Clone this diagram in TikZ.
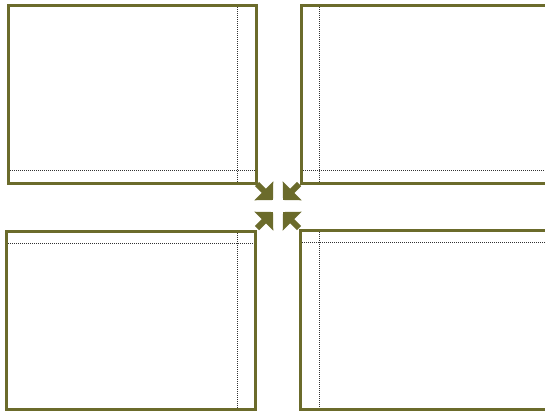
\documentclass[tikz,border=0pt]{standalone}
\usetikzlibrary{arrows.meta}
\definecolor{olive}{RGB}{107,107,43}
\definecolor{dotgray}{RGB}{50,50,50}
\tikzset{
  frame/.style={draw=olive, line width=3pt},
  guide/.style={draw=dotgray, line width=0.7pt, dash pattern=on 1pt off 1pt},
  pointer/.style={draw=olive, fill=olive, line width=6pt, -{Triangle[length=13pt,width=26pt]}}
}
\begin{document}
\begin{tikzpicture}[x=1pt,y=-1pt]
\useasboundingbox (0,0) rectangle (545,410);
\clip (0,0) rectangle (545,410);
% top-left
\draw[guide] (237,5) -- (237,183);
\draw[guide] (8,170) -- (256,170);
\draw[frame] (8,5) rectangle (256,183);
% top-right
\draw[guide] (319,5) -- (319,183);
\draw[guide] (301,170) -- (560,170);
\draw[frame] (301,5) rectangle (560,183);
% bottom-left
\draw[guide] (237,231) -- (237,409);
\draw[guide] (6,243) -- (255,243);
\draw[frame] (6,231) rectangle (255,409);
% bottom-right
\draw[guide] (319,230) -- (319,409);
\draw[guide] (300,242) -- (560,242);
\draw[frame] (300,230) rectangle (560,409);
% arrows
\coordinate (s1) at (257,184); \coordinate (t1) at (273,200);
\coordinate (s2) at (299,184); \coordinate (t2) at (283,200);
\coordinate (s3) at (257,228); \coordinate (t3) at (273,212);
\coordinate (s4) at (299,228); \coordinate (t4) at (283,212);
\draw[pointer] (s1) -- (t1);
\draw[pointer] (s2) -- (t2);
\draw[pointer] (s3) -- (t3);
\draw[pointer] (s4) -- (t4);
\end{tikzpicture}
\end{document}
